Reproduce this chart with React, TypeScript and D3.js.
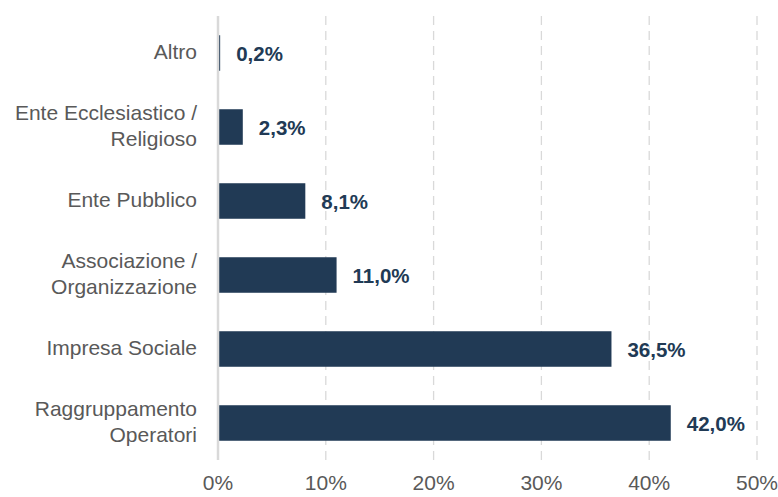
import React from "react";
import * as d3 from "d3";

const categories: string[][] = [
  ["Altro"],
  ["Ente Ecclesiastico /", "Religioso"],
  ["Ente Pubblico"],
  ["Associazione /", "Organizzazione"],
  ["Impresa Sociale"],
  ["Raggruppamento", "Operatori"],
];
const values: number[] = [0.2, 2.3, 8.1, 11.0, 36.5, 42.0];
const valueLabels: string[] = ["0,2%", "2,3%", "8,1%", "11,0%", "36,5%", "42,0%"];
const ticks: number[] = [0, 10, 20, 30, 40, 50];
const tickLabels: string[] = ["0%", "10%", "20%", "30%", "40%", "50%"];

const W = 778;
const H = 497;
const left = 218;
const right = 757;
const top = 16;
const bottom = 460;
const FONT = "'Liberation Sans', Arial, sans-serif";
const BAR = "#213A55";

export default function App() {
  const x = d3.scaleLinear().domain([0, 50]).range([left, right]);
  const ids = categories.map((_, i) => String(i));
  const y = d3.scaleBand().domain(ids).range([top, bottom]).paddingInner(0.52).paddingOuter(0.26);
  return (
    <svg width={W} height={H} style={{ position: "absolute", left: 0, top: 0, background: "#fff" }}>
      {ticks.slice(1).map((t) => (
        <line key={t} x1={x(t)} x2={x(t)} y1={top} y2={bottom} stroke="#d9d9d9" strokeWidth={1.3} strokeDasharray="9,6" />
      ))}
      {values.map((v, i) => (
        <rect key={i} x={x(0)} y={y(ids[i])} width={x(v) - x(0)} height={y.bandwidth()} fill={BAR} />
      ))}
      <line x1={x(0)} x2={x(0)} y1={top} y2={bottom} stroke="#d9d9d9" strokeWidth={2.5} />
      {values.map((v, i) => (
        <text key={i} x={x(v) + 16} y={(y(ids[i]) as number) + y.bandwidth() / 2 + 3} dominantBaseline="middle"
          fontFamily={FONT} fontSize={20.5} fontWeight="bold" fill={BAR}>{valueLabels[i]}</text>
      ))}
      {categories.map((lines, i) => {
        const cy = (y(ids[i]) as number) + y.bandwidth() / 2;
        const lh = 26;
        return (
          <text key={i} textAnchor="end" fontFamily={FONT} fontSize={21} fill="#595959">
            {lines.map((l, j) => (
              <tspan key={j} x={197} y={cy + (j - (lines.length - 1) / 2) * lh} dominantBaseline="middle">{l}</tspan>
            ))}
          </text>
        );
      })}
      {ticks.map((t, i) => (
        <text key={t} x={x(t)} y={484} textAnchor="middle" dominantBaseline="middle" fontFamily={FONT} fontSize={21} fill="#595959">{tickLabels[i]}</text>
      ))}
    </svg>
  );
}
